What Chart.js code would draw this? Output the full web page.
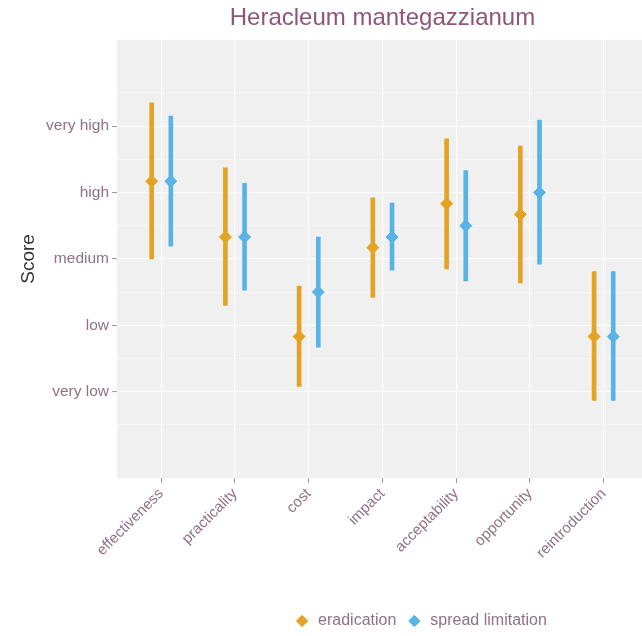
<!DOCTYPE html>
<html>
<head>
<meta charset="utf-8">
<title>Heracleum mantegazzianum</title>
<script src="https://cdn.jsdelivr.net/npm/chart.js@4.4.1/dist/chart.umd.min.js"></script>
<style>
  html, body { margin: 0; padding: 0; background: #ffffff; }
  #wrap { width: 642px; height: 636px; }
</style>
</head>
<body>
<div id="wrap"><canvas id="chart" width="642" height="636"></canvas></div>
<script>
// Management criteria scored for each strategy (1 = very low ... 5 = very high)
const categories = ['effectiveness', 'practicality', 'cost', 'impact', 'acceptability', 'opportunity', 'reintroduction'];
const scoreLevels = ['very low', 'low', 'medium', 'high', 'very high'];

const eradicationMean = [4.17, 3.33, 1.83, 3.17, 3.83, 3.67, 1.83];
const eradicationLow  = [3.00, 2.30, 1.08, 2.42, 2.85, 2.64, 0.87];
const eradicationHigh = [5.35, 4.37, 2.59, 3.92, 4.81, 4.70, 2.81];

const spreadMean = [4.17, 3.33, 2.50, 3.33, 3.50, 4.00, 1.83];
const spreadLow  = [3.19, 2.53, 1.67, 2.83, 2.67, 2.92, 0.87];
const spreadHigh = [5.15, 4.14, 3.33, 3.84, 4.33, 5.09, 2.81];

// Styling
const FONT = "'Liberation Sans', Arial, Helvetica, sans-serif";
const C_ERAD = '#E3A424';
const C_SPREAD = '#58B3E6';
const TEXT = '#8E7384';
const TITLE = '#8E5577';
const PANEL_BG = '#F0F0F0';
const TICK_MARK = '#A89AA3';
const DODGE = 0.13;           // horizontal offset of the two strategies within a criterion

const rangeData = (lo, hi, shift) => categories.map((_, i) => ({ x: i + shift, y: [lo[i], hi[i]] }));
const meanData = (m, shift) => categories.map((_, i) => ({ x: i + shift, y: m[i] }));

// grey panel behind the plot; title centred over the panel, legend placed under it
const panelPlugin = {
  id: 'panel',
  beforeDraw(chart) {
    const { ctx, chartArea: a } = chart;
    ctx.save();
    ctx.fillStyle = PANEL_BG;
    ctx.fillRect(a.left, a.top, a.right - a.left, a.bottom - a.top);
    ctx.restore();
  },
  afterLayout(chart) {
    const xs = chart.scales.x;
    const mid = xs.getPixelForValue((categories.length - 1) / 2);
    const t = chart.titleBlock;
    const tw = t.right - t.left;
    t.left = mid - tw / 2;
    t.right = mid + tw / 2;
    const lg = chart.legend;
    const lw = lg.right - lg.left;
    const lc = mid + 38;
    lg.left = lc - lw / 2;
    lg.right = lc + lw / 2;
    lg.top += 3;
    lg.bottom += 3;
  }
};

const yTicks = [];
for (let v = 0.5; v <= scoreLevels.length + 0.5; v += 0.5) yTicks.push(v);

new Chart(document.getElementById('chart'), {
  type: 'bar',
  data: {
    datasets: [
      { type: 'line', label: 'eradication', data: meanData(eradicationMean, -DODGE), showLine: false,
        pointStyle: 'rectRot', pointRadius: 6, pointBackgroundColor: C_ERAD, pointBorderColor: C_ERAD,
        pointBorderWidth: 1, backgroundColor: C_ERAD, borderColor: C_ERAD, order: 0 },
      { type: 'line', label: 'spread limitation', data: meanData(spreadMean, DODGE), showLine: false,
        pointStyle: 'rectRot', pointRadius: 6, pointBackgroundColor: C_SPREAD, pointBorderColor: C_SPREAD,
        pointBorderWidth: 1, backgroundColor: C_SPREAD, borderColor: C_SPREAD, order: 0 },
      { type: 'bar', label: 'eradication range', data: rangeData(eradicationLow, eradicationHigh, -DODGE),
        backgroundColor: C_ERAD, barThickness: 4, grouped: false, borderSkipped: false, order: 1 },
      { type: 'bar', label: 'spread limitation range', data: rangeData(spreadLow, spreadHigh, DODGE),
        backgroundColor: C_SPREAD, barThickness: 4, grouped: false, borderSkipped: false, order: 1 }
    ]
  },
  options: {
    responsive: false,
    animation: false,
    events: [],
    layout: { autoPadding: false, padding: { left: 0, right: 0, top: 0, bottom: 0 } },
    plugins: {
      title: {
        display: true,
        text: 'Heracleum mantegazzianum',
        color: TITLE,
        font: { family: FONT, size: 24, weight: 'normal' },
        padding: { top: 4, bottom: 7 }
      },
      legend: {
        position: 'bottom',
        labels: {
          usePointStyle: true,
          boxHeight: 8,
          color: TEXT,
          font: { family: FONT, size: 16 },
          padding: 10,
          filter: (item) => !item.text.endsWith('range')
        }
      },
      tooltip: { enabled: false }
    },
    scales: {
      x: {
        type: 'linear',
        min: -0.6,
        max: 6.52,
        offset: false,
        border: { display: false },
        grid: { offset: false, color: '#FFFFFF', lineWidth: 1.1, tickColor: TICK_MARK, tickLength: 5 },
        afterBuildTicks: (scale) => { scale.ticks = categories.map((_, i) => ({ value: i })); },
        afterFit: (scale) => { scale.height = 122; scale.paddingLeft = 0; scale.paddingRight = 0; },
        ticks: {
          autoSkip: false,
          minRotation: 45,
          maxRotation: 45,
          padding: 2,
          color: TEXT,
          font: { family: FONT, size: 15 },
          callback: (v) => categories[v] ?? ''
        }
      },
      y: {
        type: 'linear',
        min: -0.3,
        max: 6.3,
        border: { display: false },
        grid: {
          color: '#FFFFFF',
          lineWidth: (ctx) => Number.isInteger(ctx.tick && ctx.tick.value) ? 1.1 : 0.5,
          tickColor: (ctx) => Number.isInteger(ctx.tick && ctx.tick.value) ? TICK_MARK : 'rgba(0,0,0,0)',
          tickLength: 5
        },
        afterBuildTicks: (scale) => { scale.ticks = yTicks.map((v) => ({ value: v })); },
        afterFit: (scale) => { scale.width = 117; },
        ticks: {
          padding: 3,
          color: TEXT,
          font: { family: FONT, size: 15.5 },
          callback: (v) => Number.isInteger(v) ? (scoreLevels[v - 1] ?? '') : ''
        },
        title: {
          display: true,
          text: 'Score',
          color: '#333333',
          font: { family: FONT, size: 19 },
          padding: { top: 17, bottom: 0 }
        }
      }
    }
  },
  plugins: [panelPlugin]
});
</script>
</body>
</html>
